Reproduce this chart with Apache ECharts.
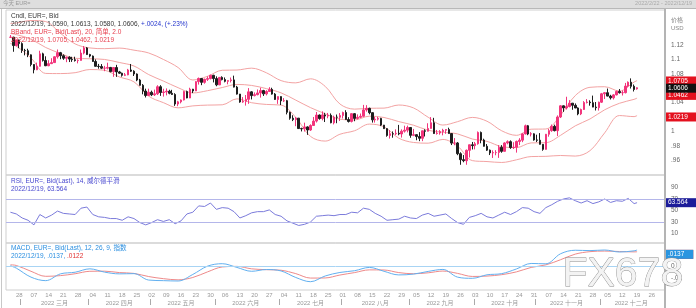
<!DOCTYPE html>
<html><head><meta charset="utf-8">
<script src="https://cdn.jsdelivr.net/npm/echarts@6/dist/echarts.min.js"></script>
<style>html,body{margin:0;padding:0;background:#fff}#c{width:696px;height:308px}</style>
</head><body><div id="c"></div>
<script>
// ---- categories (trading days, 2022); first is a blank slot, last nine are empty future slots
const dates = ['2/22','2/23','2/24','2/25','2/28',
'3/1','3/2','3/3','3/4','3/7','3/8','3/9','3/10','3/11','3/14','3/15','3/16','3/17','3/18','3/21','3/22','3/23','3/24','3/25','3/28','3/29','3/30','3/31',
'4/1','4/4','4/5','4/6','4/7','4/8','4/11','4/12','4/13','4/14','4/15','4/18','4/19','4/20','4/21','4/22','4/25','4/26','4/27','4/28','4/29',
'5/2','5/3','5/4','5/5','5/6','5/9','5/10','5/11','5/12','5/13','5/16','5/17','5/18','5/19','5/20','5/23','5/24','5/25','5/26','5/27','5/30','5/31',
'6/1','6/2','6/3','6/6','6/7','6/8','6/9','6/10','6/13','6/14','6/15','6/16','6/17','6/20','6/21','6/22','6/23','6/24','6/27','6/28','6/29','6/30',
'7/1','7/4','7/5','7/6','7/7','7/8','7/11','7/12','7/13','7/14','7/15','7/18','7/19','7/20','7/21','7/22','7/25','7/26','7/27','7/28','7/29',
'8/1','8/2','8/3','8/4','8/5','8/8','8/9','8/10','8/11','8/12','8/15','8/16','8/17','8/18','8/19','8/22','8/23','8/24','8/25','8/26','8/29','8/30','8/31',
'9/1','9/2','9/5','9/6','9/7','9/8','9/9','9/12','9/13','9/14','9/15','9/16','9/19','9/20','9/21','9/22','9/23','9/26','9/27','9/28','9/29','9/30',
'10/3','10/4','10/5','10/6','10/7','10/10','10/11','10/12','10/13','10/14','10/17','10/18','10/19','10/20','10/21','10/24','10/25','10/26','10/27','10/28','10/31',
'11/1','11/2','11/3','11/4','11/7','11/8','11/9','11/10','11/11','11/14','11/15','11/16','11/17','11/18','11/21','11/22','11/23','11/24','11/25','11/28','11/29','11/30',
'12/1','12/2','12/5','12/6','12/7','12/8','12/9','12/12','12/13','12/14','12/15','12/16','12/19',
'12/20','12/21','12/22','12/23','12/26','12/27','12/28','12/29','12/30'];
const monthNames = ['一月','二月','三月','四月','五月','六月','七月','八月','九月','十月','十一月','十二月'];

// ---- daily candles [open, high, low, close], from 2/23 to 12/19
const ohlc = [
[1.1307,1.1338,1.1299,1.1308],[1.1308,1.1314,1.1106,1.1192],[1.1192,1.1274,1.1181,1.1270],[1.1270,1.1274,1.1156,1.1219],
[1.1219,1.1237,1.1090,1.1124],[1.1124,1.1146,1.1056,1.1120],[1.1120,1.1148,1.1031,1.1063],[1.1063,1.1069,1.0903,1.0929],
[1.0929,1.0933,1.0806,1.0856],[1.0856,1.0955,1.0851,1.0904],[1.0904,1.1120,1.0900,1.1077],[1.1077,1.1093,1.0970,1.0985],
[1.0985,1.1043,1.0906,1.0912],[1.0912,1.0989,1.0905,1.0941],[1.0941,1.1016,1.0935,1.0955],[1.0955,1.1043,1.0950,1.1036],
[1.1036,1.1137,1.1011,1.1093],[1.1093,1.1104,1.1002,1.1051],[1.1051,1.1070,1.0994,1.1016],[1.1016,1.1038,1.0961,1.1030],
[1.1030,1.1043,1.0963,1.1004],[1.1004,1.1036,1.0965,1.0995],[1.0995,1.1037,1.0970,1.0983],[1.0983,1.1000,1.0945,1.0986],
[1.0986,1.1137,1.0985,1.1088],[1.1088,1.1185,1.1070,1.1159],[1.1159,1.1171,1.1062,1.1067],
[1.1067,1.1077,1.1028,1.1046],[1.1046,1.1054,1.0966,1.0971],[1.0971,1.1000,1.0898,1.0904],[1.0904,1.0937,1.0871,1.0901],
[1.0901,1.0935,1.0865,1.0878],[1.0878,1.0910,1.0836,1.0878],[1.0878,1.0954,1.0860,1.0888],[1.0888,1.0895,1.0821,1.0830],
[1.0830,1.0889,1.0758,1.0887],[1.0887,1.0924,1.0757,1.0826],[1.0826,1.0840,1.0800,1.0808],[1.0808,1.0816,1.0760,1.0779],
[1.0779,1.0811,1.0768,1.0785],[1.0785,1.0868,1.0780,1.0853],[1.0853,1.0936,1.0825,1.0836],[1.0836,1.0849,1.0769,1.0797],
[1.0797,1.0805,1.0697,1.0713],[1.0713,1.0729,1.0636,1.0640],[1.0640,1.0657,1.0515,1.0560],[1.0560,1.0593,1.0471,1.0498],
[1.0498,1.0593,1.0494,1.0544],
[1.0544,1.0566,1.0490,1.0508],[1.0508,1.0580,1.0492,1.0522],[1.0522,1.0641,1.0505,1.0620],[1.0620,1.0642,1.0493,1.0540],
[1.0540,1.0592,1.0483,1.0548],[1.0548,1.0597,1.0500,1.0558],[1.0558,1.0578,1.0515,1.0529],[1.0529,1.0577,1.0505,1.0513],
[1.0513,1.0530,1.0354,1.0380],[1.0380,1.0424,1.0350,1.0410],[1.0410,1.0443,1.0389,1.0436],[1.0436,1.0564,1.0430,1.0553],
[1.0553,1.0566,1.0460,1.0464],[1.0464,1.0606,1.0462,1.0586],[1.0586,1.0590,1.0532,1.0562],[1.0562,1.0697,1.0560,1.0691],
[1.0691,1.0748,1.0650,1.0735],[1.0735,1.0737,1.0642,1.0681],[1.0681,1.0733,1.0662,1.0723],[1.0723,1.0765,1.0700,1.0733],
[1.0733,1.0787,1.0722,1.0779],[1.0779,1.0786,1.0680,1.0733],
[1.0733,1.0764,1.0627,1.0646],[1.0646,1.0754,1.0643,1.0750],[1.0750,1.0765,1.0709,1.0719],[1.0719,1.0749,1.0681,1.0695],
[1.0695,1.0712,1.0654,1.0706],[1.0706,1.0748,1.0679,1.0715],[1.0715,1.0774,1.0610,1.0615],[1.0615,1.0632,1.0511,1.0518],
[1.0518,1.0520,1.0398,1.0408],[1.0408,1.0476,1.0397,1.0417],[1.0417,1.0505,1.0358,1.0445],[1.0445,1.0601,1.0382,1.0549],
[1.0549,1.0557,1.0444,1.0497],[1.0497,1.0541,1.0486,1.0510],[1.0510,1.0582,1.0501,1.0534],[1.0534,1.0606,1.0469,1.0567],
[1.0567,1.0577,1.0492,1.0521],[1.0521,1.0572,1.0500,1.0554],[1.0554,1.0614,1.0548,1.0583],[1.0583,1.0606,1.0510,1.0518],
[1.0518,1.0532,1.0436,1.0443],[1.0443,1.0486,1.0382,1.0483],
[1.0483,1.0487,1.0366,1.0424],[1.0424,1.0462,1.0409,1.0426],[1.0426,1.0437,1.0236,1.0265],[1.0265,1.0276,1.0162,1.0183],
[1.0183,1.0224,1.0143,1.0163],[1.0163,1.0199,1.0072,1.0184],[1.0184,1.0186,1.0033,1.0039],[1.0039,1.0051,0.9999,1.0035],
[1.0035,1.0121,0.9998,1.0062],[1.0062,1.0070,0.9952,1.0019],[1.0019,1.0098,1.0007,1.0082],[1.0082,1.0200,1.0081,1.0143],
[1.0143,1.0269,1.0123,1.0227],[1.0227,1.0234,1.0162,1.0178],[1.0178,1.0278,1.0153,1.0229],[1.0229,1.0258,1.0130,1.0213],
[1.0213,1.0256,1.0182,1.0223],[1.0223,1.0249,1.0112,1.0120],[1.0120,1.0218,1.0097,1.0197],[1.0197,1.0234,1.0113,1.0196],
[1.0196,1.0254,1.0144,1.0220],
[1.0220,1.0274,1.0179,1.0262],[1.0262,1.0294,1.0160,1.0164],[1.0164,1.0197,1.0123,1.0138],[1.0138,1.0254,1.0124,1.0246],
[1.0246,1.0253,1.0141,1.0180],[1.0180,1.0236,1.0168,1.0196],[1.0196,1.0248,1.0185,1.0210],[1.0210,1.0368,1.0203,1.0298],
[1.0298,1.0364,1.0274,1.0320],[1.0320,1.0329,1.0237,1.0260],[1.0260,1.0265,1.0122,1.0160],[1.0160,1.0202,1.0122,1.0170],
[1.0170,1.0202,1.0151,1.0180],[1.0180,1.0188,1.0073,1.0087],[1.0087,1.0090,1.0033,1.0038],[1.0038,1.0045,0.9926,0.9943],
[0.9943,1.0018,0.9900,0.9968],[0.9968,0.9999,0.9912,0.9967],[0.9967,1.0028,0.9948,0.9974],[0.9974,1.0090,0.9946,0.9964],
[0.9964,1.0028,0.9914,1.0003],[1.0003,1.0079,0.9983,1.0017],[1.0017,1.0080,0.9986,1.0054],
[1.0054,1.0055,0.9911,0.9945],[0.9945,1.0034,0.9934,0.9954],[0.9954,0.9960,0.9877,0.9928],[0.9928,0.9989,0.9864,0.9904],
[0.9904,1.0011,0.9864,1.0008],[1.0008,1.0029,0.9929,1.0002],[1.0002,1.0113,0.9999,1.0041],[1.0041,1.0198,1.0038,1.0120],
[1.0120,1.0188,0.9966,0.9970],[0.9970,1.0020,0.9955,0.9977],[0.9977,1.0017,0.9954,0.9997],[0.9997,1.0036,0.9945,1.0016],
[1.0016,1.0030,0.9966,1.0025],[1.0025,1.0051,0.9966,0.9970],[0.9970,0.9976,0.9810,0.9837],[0.9837,0.9907,0.9807,0.9839],
[0.9839,0.9852,0.9669,0.9690],[0.9690,0.9710,0.9536,0.9607],[0.9607,0.9671,0.9571,0.9593],[0.9593,0.9748,0.9536,0.9737],
[0.9737,0.9815,0.9637,0.9814],[0.9814,0.9853,0.9749,0.9802],
[0.9802,0.9853,0.9750,0.9828],[0.9828,0.9999,0.9815,0.9985],[0.9985,0.9998,0.9835,0.9880],[0.9880,0.9898,0.9789,0.9793],
[0.9793,0.9824,0.9729,0.9739],[0.9739,0.9748,0.9671,0.9701],[0.9701,0.9737,0.9631,0.9705],[0.9705,0.9739,0.9668,0.9706],
[0.9706,0.9809,0.9632,0.9779],[0.9779,0.9809,0.9703,0.9723],[0.9723,0.9849,0.9720,0.9839],[0.9839,0.9875,0.9820,0.9857],
[0.9857,0.9875,0.9757,0.9775],[0.9775,0.9849,0.9755,0.9780],[0.9780,0.9872,0.9705,0.9860],[0.9860,0.9905,0.9810,0.9878],
[0.9878,0.9976,0.9850,0.9965],[0.9965,1.0094,0.9957,1.0078],[1.0078,1.0089,0.9947,0.9963],[0.9963,0.9989,0.9930,0.9966],
[0.9966,0.9973,0.9871,0.9881],
[0.9881,0.9954,0.9852,0.9877],[0.9877,0.9976,0.9817,0.9820],[0.9820,0.9822,0.9731,0.9750],[0.9750,0.9964,0.9747,0.9960],
[0.9960,1.0034,0.9926,1.0010],[1.0010,1.0095,0.9994,1.0070],[1.0070,1.0093,1.0000,1.0010],[1.0010,1.0222,0.9936,1.0200],
[1.0200,1.0364,1.0185,1.0355],[1.0355,1.0360,1.0271,1.0326],[1.0326,1.0481,1.0304,1.0345],[1.0345,1.0434,1.0334,1.0392],
[1.0392,1.0394,1.0300,1.0362],[1.0362,1.0388,1.0323,1.0325],[1.0325,1.0334,1.0224,1.0243],[1.0243,1.0316,1.0226,1.0304],
[1.0304,1.0420,1.0297,1.0401],[1.0401,1.0448,1.0388,1.0407],[1.0407,1.0432,1.0357,1.0398],[1.0398,1.0497,1.0346,1.0337],
[1.0337,1.0408,1.0290,1.0329],[1.0329,1.0413,1.0289,1.0405],
[1.0405,1.0534,1.0394,1.0522],[1.0522,1.0545,1.0449,1.0537],[1.0537,1.0595,1.0487,1.0490],[1.0490,1.0508,1.0443,1.0466],
[1.0466,1.0518,1.0443,1.0507],[1.0507,1.0565,1.0500,1.0555],[1.0555,1.0588,1.0525,1.0537],[1.0537,1.0568,1.0498,1.0538],
[1.0538,1.0673,1.0527,1.0629],[1.0629,1.0694,1.0613,1.0683],[1.0683,1.0736,1.0595,1.0626],[1.0626,1.0651,1.0554,1.0582],
[1.0590,1.0613,1.0580,1.0606]];

// ---- Bollinger band (20, 2.0) readings, one per week
const bbDates = ['2/23','2/25','3/4','3/11','3/18','3/25','4/1','4/8','4/15','4/22','4/29','5/6','5/13','5/20','5/27','6/3','6/10','6/17','6/24',
'7/1','7/8','7/15','7/22','7/29','8/5','8/12','8/19','8/26','9/2','9/9','9/16','9/23','9/30','10/7','10/14','10/21','10/28',
'11/4','11/11','11/18','11/25','12/2','12/9','12/16','12/19'];
const bbUpper = [1.1500,1.1505,1.1540,1.1525,1.1363,1.1215,1.1159,1.1149,1.1157,1.1128,1.1089,1.0999,1.0887,1.0714,1.0765,1.0849,1.0852,1.0878,1.0814,
1.0705,1.0674,1.0730,1.0625,1.0380,1.0309,1.0321,1.0323,1.0366,1.0326,1.0196,1.0088,1.0135,1.0194,1.0141,1.0008,0.9945,1.0030,
1.0033,1.0225,1.0497,1.0612,1.0620,1.0560,1.0685,1.0705];
const bbMid = [1.1360,1.1345,1.1280,1.1165,1.1083,1.1015,1.1009,1.0999,1.0957,1.0908,1.0789,1.0699,1.0607,1.0534,1.0565,1.0609,1.0652,1.0638,1.0594,
1.0535,1.0434,1.0330,1.0245,1.0170,1.0159,1.0211,1.0193,1.0136,1.0086,1.0016,0.9988,0.9965,0.9894,0.9861,0.9788,0.9775,0.9840,
0.9843,0.9945,1.0077,1.0172,1.0300,1.0390,1.0445,1.0462];
const bbLower = [1.1220,1.1185,1.1020,1.0805,1.0803,1.0815,1.0859,1.0849,1.0757,1.0688,1.0489,1.0399,1.0327,1.0354,1.0365,1.0369,1.0452,1.0398,1.0374,
1.0365,1.0194,0.9930,0.9865,0.9960,1.0009,1.0101,1.0063,0.9906,0.9846,0.9836,0.9888,0.9795,0.9594,0.9581,0.9568,0.9605,0.9650,
0.9653,0.9665,0.9657,0.9732,0.9980,1.0220,1.0205,1.0219];

// ---- RSI (14) readings, every second trading day from 2/23, plus 12/19
const rsiVals = [47,44,37,33,25,43,37,42,49,45,44,43,54,56,43,39,38,36,36,33,39,36,29,25,29,34,31,34,27,32,44,47,58,57,63,52,55,54,48,37,
41,46,48,48,51,43,40,32,28,24,26,30,40,41,42,41,43,43,47,46,54,52,45,40,33,34,35,40,37,36,42,45,40,42,44,36,29,26,38,41,
45,39,37,42,47,43,48,55,54,48,45,55,60,66,70,72,67,63,67,62,65,70,64,67,66,71,62,63.564];

// ---- MACD (12, 26, 9) readings, same weekly dates as the bands
const macdVals = [0.0002,-0.0018,-0.0095,-0.0125,-0.0067,-0.0053,-0.0024,-0.0052,-0.0067,-0.0065,-0.0120,-0.0125,-0.0128,-0.0072,-0.0001,0.0020,-0.0012,-0.0045,-0.0030,
-0.0042,-0.0098,-0.0134,-0.0085,-0.0055,-0.0040,-0.0012,-0.0045,-0.0076,-0.0069,-0.0046,-0.0029,-0.0095,-0.0105,-0.0075,-0.0065,-0.0025,0.0022,
0.0019,0.0105,0.0135,0.0132,0.0137,0.0120,0.0130,0.0137];
const signalVals = [0.0010,0.0005,-0.0045,-0.0088,-0.0082,-0.0066,-0.0045,-0.0044,-0.0056,-0.0063,-0.0090,-0.0108,-0.0118,-0.0098,-0.0050,-0.0008,-0.0003,-0.0024,-0.0031,
-0.0036,-0.0065,-0.0103,-0.0102,-0.0077,-0.0056,-0.0033,-0.0034,-0.0056,-0.0066,-0.0058,-0.0043,-0.0063,-0.0089,-0.0086,-0.0074,-0.0050,-0.0012,
0.0010,0.0054,0.0102,0.0123,0.0128,0.0124,0.0121,0.0122];

// ---- axis label values
const priceTicks = [0.96,0.98,1.00,1.02,1.04,1.06,1.08,1.10,1.12];
const rsiTicks = [10,30,50,70,90];
const rsiBands = [70,30];
const macdTicks = [-0.01,0,0.01];

// ================= build =================
const FONT = "'Liberation Sans','Noto Sans CJK SC',sans-serif";
const cat = d => dates.indexOf(d);
const dataDates = dates.slice(1, 1 + ohlc.length);
const candleData = ohlc.map((r, i) => [cat(dataDates[i]), r[0], r[3], r[2], r[1]]);
const last = ohlc[ohlc.length - 1];
const lastDate = dataDates[dataDates.length - 1];
const rsiDates = dataDates.filter((d, i) => i % 2 === 0).concat([lastDate]);
const pair = (ds, vs) => ds.map((d, i) => [cat(d), vs[i]]);
const fmt = v => { let s = String(+(+v).toFixed(4)); if (s.startsWith('0.')) s = s.slice(1); else if (s.startsWith('-0.')) s = '-' + s.slice(2); return s; };

const mon = dates.map(s => +s.split('/')[0]);
const isMonday = dates.map(s => { const p = s.split('/').map(Number); return new Date(2022, p[0] - 1, p[1]).getDay() === 1; });
const monthFirst = new Set(), monthMid = new Set();
let st = 0;
for (let i = 1; i <= dates.length; i++) {
  if (i === dates.length || mon[i] !== mon[st]) {
    if (st > 0) monthFirst.add(st);
    if (i - st >= 10) monthMid.add(Math.floor((st + i - 1) / 2));
    st = i;
  }
}

const G = {left: 6, right: 31};
// value tag on the right axis: an invisible horizontal mark line whose end label is a coloured box
const tag = (v, bg, txt) => ({
  yAxis: v,
  lineStyle: {width: 0, color: 'rgba(255,255,255,0)'},
  label: {show: true, position: 'end', distance: 1, formatter: txt, color: '#fff', backgroundColor: bg,
          fontSize: 6.5, fontFamily: FONT, padding: [1, 9, 1, 2], lineHeight: 7}
});
const ml = (data, z) => ({silent: true, symbol: 'none', animation: false, z: z || 5, data});
const hidX = gi => ({type: 'category', gridIndex: gi, data: dates, show: false, boundaryGap: true});
const yBase = (gi, min, max, ticks) => ({
  type: 'value', gridIndex: gi, position: 'right', min, max, scale: true,
  splitLine: {show: false}, axisLine: {show: false}, axisTick: {show: false},
  axisLabel: {customValues: ticks, formatter: fmt, fontSize: 6.5, color: '#666', margin: 6, fontFamily: FONT}
});
const ttl = (top, text, rich) => ({left: 11, top, padding: 0, text,
  textStyle: {fontSize: 6.5, fontWeight: 'normal', fontFamily: FONT, lineHeight: 8, rich}});
const R = (color) => ({color, fontSize: 6.5, fontFamily: FONT});

const chart = echarts.init(document.getElementById('c'), null, {renderer: 'canvas'});
chart.setOption({
  animation: false,
  backgroundColor: '#fff',
  title: [
    ttl(12, '{a|Cndl, EUR=, Bid}', {a: R('#333')}),
    ttl(20.5, '{a|2022/12/' + lastDate.split('/')[1] + ', ' + last.map(v => v.toFixed(4)).join(', ') + ', }{b|+.0024, (+.23%)}',
        {a: R('#333'), b: R('#2233cc')}),
    ttl(28.5, '{a|BBand, EUR=, Bid(Last), 20, 简单, 2.0}', {a: R('#e8404f')}),
    ttl(36.5, '{a|2022/12/19, ' + [bbUpper[bbUpper.length-1], bbMid[bbMid.length-1], bbLower[bbLower.length-1]].map(v => v.toFixed(4)).join(', ') + '}',
        {a: R('#e8404f')}),
    ttl(177.5, '{a|RSI, EUR=, Bid(Last), 14, 威尔德平滑}', {a: R('#4a4ad0')}),
    ttl(185.5, '{a|2022/12/19, ' + rsiVals[rsiVals.length-1] + '}', {a: R('#4a4ad0')}),
    ttl(244.5, '{a|MACD, EUR=, Bid(Last), 12, 26, 9, 指数}', {a: R('#2b8fe0')}),
    ttl(252, '{a|2022/12/19, ' + fmt(macdVals[macdVals.length-1]) + ', }{b|' + fmt(signalVals[signalVals.length-1]) + '}',
        {a: R('#2b8fe0'), b: R('#e03030')})
  ],
  grid: [
    Object.assign({top: 10, height: 165, show: true, borderColor: '#cfcfcf', borderWidth: 1}, G),
    Object.assign({top: 175, height: 68, show: true, borderColor: '#cfcfcf', borderWidth: 1}, G),
    Object.assign({top: 243, height: 47, show: true, borderColor: '#cfcfcf', borderWidth: 1}, G)
  ],
  xAxis: [
    hidX(0), hidX(1),
    {type: 'category', gridIndex: 2, data: dates, boundaryGap: true, position: 'bottom',
     axisLine: {show: false}, axisTick: {show: false},
     axisLabel: {interval: i => isMonday[i], formatter: v => String(v.split('/')[1]).padStart(2, '0'),
                 fontSize: 6, color: '#999', margin: 2, fontFamily: FONT}},
    {type: 'category', gridIndex: 2, data: dates, boundaryGap: true, position: 'bottom', offset: 9,
     axisLine: {show: false},
     axisTick: {show: true, interval: i => monthFirst.has(i), length: 6, lineStyle: {color: '#aaa'}},
     axisLabel: {interval: i => monthMid.has(i), formatter: v => '2022 ' + monthNames[+v.split('/')[0] - 1],
                 fontSize: 6, color: '#999', margin: 1, fontFamily: FONT}}
  ],
  yAxis: [
    yBase(0, 0.9394, 1.1686, priceTicks),
    yBase(1, -6.5, 111.7, rsiTicks),
    yBase(2, -0.0205, 0.0197, macdTicks)
  ],
  series: [
    {type: 'line', name: 'bbU', xAxisIndex: 0, yAxisIndex: 0, data: pair(bbDates, bbUpper), smooth: 0.35, showSymbol: false,
     lineStyle: {color: '#f3a3a3', width: 1}, z: 2,
     markLine: ml([tag(bbUpper[bbUpper.length-1], '#e4101e', fmt(bbUpper[bbUpper.length-1]))], 6)},
    {type: 'line', name: 'bbM', xAxisIndex: 0, yAxisIndex: 0, data: pair(bbDates, bbMid), smooth: 0.35, showSymbol: false,
     lineStyle: {color: '#f3a3a3', width: 1}, z: 2,
     markLine: ml([tag(bbMid[bbMid.length-1], '#e4101e', fmt(bbMid[bbMid.length-1]))], 6)},
    {type: 'line', name: 'bbL', xAxisIndex: 0, yAxisIndex: 0, data: pair(bbDates, bbLower), smooth: 0.35, showSymbol: false,
     lineStyle: {color: '#f3a3a3', width: 1}, z: 2,
     markLine: ml([tag(bbLower[bbLower.length-1], '#e4101e', fmt(bbLower[bbLower.length-1]))], 6)},
    {type: 'candlestick', xAxisIndex: 0, yAxisIndex: 0, data: candleData, encode: {x: 0, y: [1, 2, 3, 4]},
     barWidth: 2, z: 3,
     itemStyle: {color: '#f2357c', color0: '#1e1e1e', borderColor: '#f2357c', borderColor0: '#1e1e1e', borderWidth: 1},
     markLine: ml([tag(last[3], '#111', fmt(last[3]))], 9)},
    {type: 'line', name: 'rsi', xAxisIndex: 1, yAxisIndex: 1, data: pair(rsiDates, rsiVals), showSymbol: false,
     lineStyle: {color: '#7b7bdb', width: 1},
     markLine: ml(rsiBands.map(v => ({yAxis: v, lineStyle: {color: '#b4b6ea', width: 1, type: 'solid'}, label: {show: false}}))
       .concat([tag(rsiVals[rsiVals.length-1], '#1c1c9a', String(rsiVals[rsiVals.length-1]))]), 5)},
    {type: 'line', name: 'signal', xAxisIndex: 2, yAxisIndex: 2, data: pair(bbDates, signalVals), smooth: 0.35, showSymbol: false,
     lineStyle: {color: '#ee8a8a', width: 1},
     markLine: ml([tag(signalVals[signalVals.length-1], '#e03030', fmt(signalVals[signalVals.length-1]))], 5)},
    {type: 'line', name: 'macd', xAxisIndex: 2, yAxisIndex: 2, data: pair(bbDates, macdVals), smooth: 0.35, showSymbol: false,
     lineStyle: {color: '#62b0f0', width: 1},
     markLine: ml([{yAxis: 0, lineStyle: {color: '#a8d4f4', width: 1, type: 'solid'}, label: {show: false}},
                   tag(macdVals[macdVals.length-1], '#2a95e0', fmt(macdVals[macdVals.length-1]))], 7)}
  ],
  graphic: [
    {type: 'rect', left: 0, top: 0, shape: {width: 696, height: 8}, style: {fill: '#dedede'}, z: 0},
    {type: 'rect', left: 0, top: 8, shape: {width: 696, height: 1}, style: {fill: '#b8b8b8'}, z: 0},
    {type: 'text', left: 3, top: 1, style: {text: '今天 EUR=', fontSize: 5.5, fill: '#999', fontFamily: FONT}},
    {type: 'text', right: 4, top: 1, style: {text: '2022/2/22 - 2022/12/19', fontSize: 5.5, fill: '#aaa', fontFamily: FONT}},
    {type: 'rect', left: 1, top: 9, shape: {width: 1, height: 299}, style: {fill: '#c8c8c8'}},
    {type: 'rect', left: 664, top: 9, shape: {width: 2, height: 299}, style: {fill: '#b4b4b4'}, z: 10},
    {type: 'text', left: 671, top: 17, style: {text: '价格', fontSize: 6, fill: '#888', fontFamily: FONT}},
    {type: 'text', left: 671, top: 25, style: {text: 'USD', fontSize: 6, fill: '#888', fontFamily: FONT}},
    {type: 'text', left: 562, top: 254, z: 100,
     style: {text: 'FX678', fontSize: 41, fontFamily: "'Liberation Sans',sans-serif", fill: '#f3f3f3', stroke: '#8a8a8a', lineWidth: 0.8,
             shadowColor: 'rgba(0,0,0,0.25)', shadowBlur: 2, shadowOffsetX: 1, shadowOffsetY: 1}}
  ]
});
</script></body></html>
